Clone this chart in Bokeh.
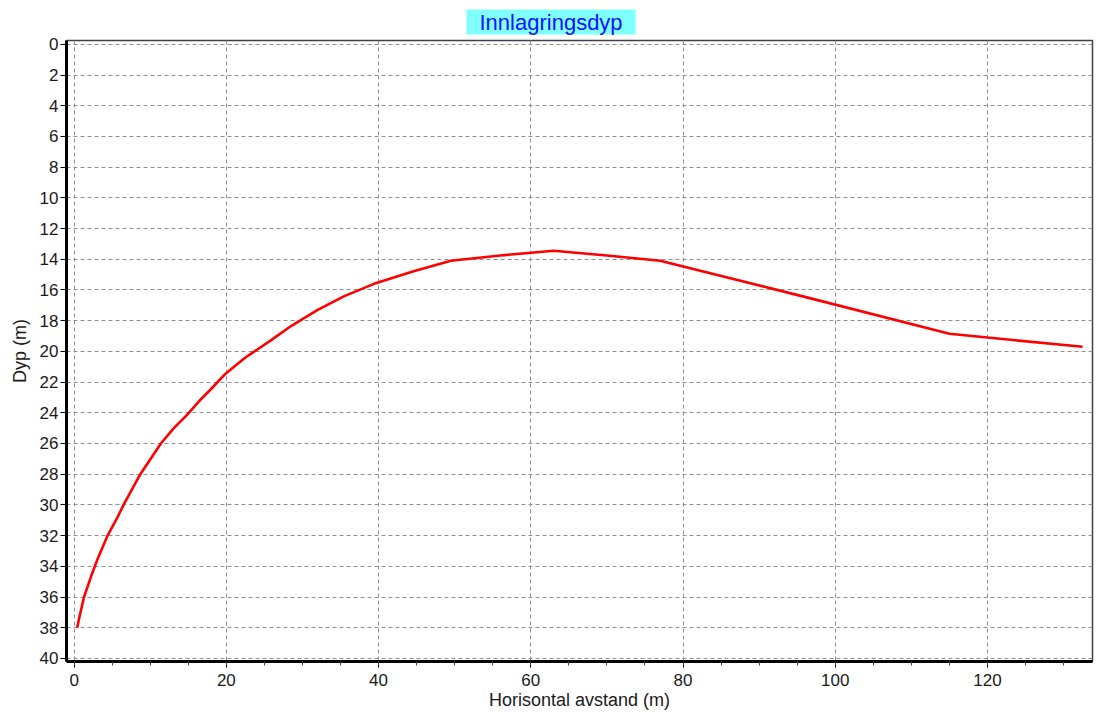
from bokeh.plotting import figure
from bokeh.models import Range1d, FixedTicker
from bokeh.embed import file_html
from bokeh.resources import INLINE

# Data
distance_m = [0.4, 0.7, 1.3, 2.2, 3.1, 4.4, 5.6, 6.6, 8.7, 11.4, 13.1, 14.9, 16.4, 17.9, 19.9,
              22.5, 25.8, 28.5, 32.0, 35.5, 39.4, 44.5, 49.5, 56.0, 63.0, 70.0,
              77.0, 96.0, 115.0, 120.0, 132.5]
depth_m = [38.0, 37.3, 36.0, 34.7, 33.5, 32.0, 30.9, 29.9, 28.0, 26.0, 25.0, 24.1, 23.25, 22.5, 21.45,
           20.4, 19.3, 18.35, 17.3, 16.4, 15.6, 14.8, 14.1, 13.75, 13.45, 13.75,
           14.1, 16.45, 18.85, 19.1, 19.7]
x_ticks = [0, 20, 40, 60, 80, 100, 120]
x_minor = list(range(0, 135, 5))
y_ticks = list(range(0, 41, 2))

title_text = "Innlagringsdyp"
x_label = "Horisontal avstand (m)"
y_label = "Dyp (m)"

FONT = "Liberation Sans"

p = figure(width=1101, height=713,
           x_range=Range1d(-1.0, 133.8), y_range=Range1d(40.2, -0.25),
           output_backend="svg", toolbar_location=None,
           min_border_left=66, min_border_right=9,
           min_border_top=40, min_border_bottom=52)

p.title.text = title_text
p.title.text_font = FONT
p.title.text_font_size = "22px"
p.title.text_font_style = "normal"
p.title.text_color = "#1010ff"
p.title.background_fill_color = "#80ffff"
p.title.padding = dict(left=13, right=13, top=0, bottom=0)
p.title.align = "left"
p.title.offset = 400
p.title.standoff = 12

p.line(distance_m, depth_m, line_color="#ff0000", line_width=2.6)

p.outline_line_color = "#404040"
p.outline_line_width = 1.5

for ax in (p.xaxis, p.yaxis):
    ax.axis_line_color = "black"
    ax.axis_line_width = 3
    ax.major_tick_line_color = "black"
    ax.minor_tick_line_color = "#404040"
    ax.major_label_text_font = FONT
    ax.major_label_text_font_size = "17px"
    ax.major_label_text_color = "#1a1a1a"
    ax.axis_label_text_font = FONT
    ax.axis_label_text_font_size = "18px"
    ax.axis_label_text_font_style = "normal"
    ax.axis_label_text_color = "#1a1a1a"
    ax.major_tick_out = 6
    ax.major_tick_in = 0
    ax.major_label_standoff = 2

p.xaxis.ticker = FixedTicker(ticks=x_ticks, minor_ticks=x_minor)
p.yaxis.ticker = FixedTicker(ticks=y_ticks, minor_ticks=[])
p.xaxis.minor_tick_out = 4
p.xaxis.minor_tick_in = 0
p.yaxis.minor_tick_out = 0
p.yaxis.minor_tick_in = 0
p.xaxis.axis_label = x_label
p.yaxis.axis_label = y_label
p.xaxis.major_label_standoff = 6
p.xaxis.axis_label_standoff = 1
p.yaxis.axis_label_standoff = 7

p.grid.grid_line_color = "#909090"
p.grid.grid_line_dash = "4 3"
p.grid.grid_line_width = 1

open("out.html", "w").write(file_html(p, INLINE))
